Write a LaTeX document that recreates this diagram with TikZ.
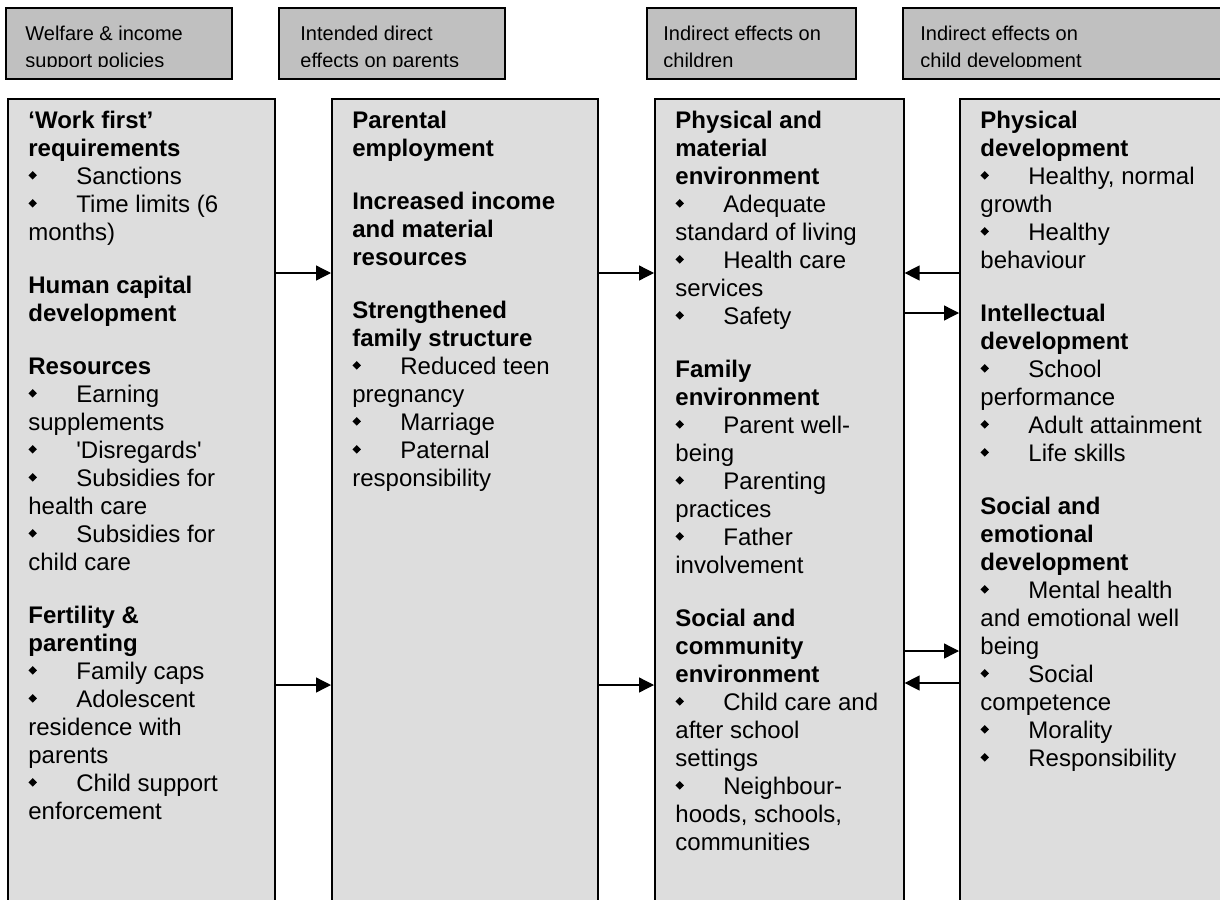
\documentclass[tikz,border=0pt]{standalone}
\usepackage{fontspec}
\setmainfont{Liberation Sans}
\usepackage{graphicx}
\usetikzlibrary{arrows.meta}
\definecolor{hdrgray}{HTML}{C0C0C0}
\definecolor{boxgray}{HTML}{DDDDDD}
\newcommand\bul{\makebox[24pt][l]{\raisebox{2.4pt}{\rotatebox{45}{\rule{3pt}{3pt}}}}}
\newcommand\sq{\textquotesingle}
\begin{document}
\begin{tikzpicture}[x=0.5pt,y=-0.5pt,
  hdr/.style={draw=black,line width=0.8pt,fill=hdrgray,anchor=north west,inner sep=0pt,minimum height=35.5pt},
  mainbox/.style={draw=black,line width=0.8pt,fill=boxgray,anchor=north west,inner sep=0pt,minimum height=406pt},
  hdrtext/.style={anchor=north west,inner sep=0pt,align=left,font=\fontsize{10}{13.5}\selectfont},
  bodytext/.style={anchor=north west,inner sep=0pt,align=left,font=\fontsize{12}{14}\selectfont},
  arr/.style={-{Triangle[length=7.5pt,width=7.5pt]},line width=0.65pt}]
\clip (0,0) rectangle (1220,899);
\fill[white] (0,0) rectangle (1220,899);
% headers
\node[hdr,minimum width=113pt] (h1) at (5,7) {};
\node[hdr,minimum width=113pt] (h2) at (278,7) {};
\node[hdr,minimum width=104.5pt] (h3) at (646,7) {};
\node[hdr,minimum width=165pt] (h4) at (902,7) {};
\begin{scope}
\clip (0,7) rectangle (1220,67);
\node[hdrtext] (ht1) at (25,22) {\rule{0pt}{9pt}Welfare \& income\\support policies};
\node[hdrtext] (ht2) at (300,22) {\rule{0pt}{9pt}Intended direct\\effects on parents};
\node[hdrtext] (ht3) at (663,22) {\rule{0pt}{9pt}Indirect effects on\\children};
\node[hdrtext] (ht4) at (920,22) {\rule{0pt}{9pt}Indirect effects on\\child development};
\end{scope}
% main boxes
\node[mainbox,minimum width=133.5pt] (b1) at (7,98) {};
\node[mainbox,minimum width=133pt] (b2) at (331,98) {};
\node[mainbox,minimum width=124.5pt] (b3) at (654,98) {};
\node[mainbox,minimum width=135pt] (b4) at (959,98) {};
% texts
\node[bodytext] (t1) at (28,106) {\rule{0pt}{11pt}\textbf{‘Work first’}\\
\textbf{requirements}\\
\bul Sanctions\\
\bul Time limits (6\\
months)\\[12.5pt]
\textbf{Human capital}\\
\textbf{development}\\[12.5pt]
\textbf{Resources}\\
\bul Earning\\
supplements\\
\bul \sq Disregards\sq\\
\bul Subsidies for\\
health care\\
\bul Subsidies for\\
child care\\[12.5pt]
\textbf{Fertility \&}\\
\textbf{parenting}\\
\bul Family caps\\
\bul Adolescent\\
residence with\\
parents\\
\bul Child support\\
enforcement};
\node[bodytext] (t2) at (352,106) {\rule{0pt}{11pt}\textbf{Parental}\\
\textbf{employment}\\[12.5pt]
\textbf{Increased income}\\
\textbf{and material}\\
\textbf{resources}\\[12.5pt]
\textbf{Strengthened}\\
\textbf{family structure}\\
\bul Reduced teen\\
pregnancy\\
\bul Marriage\\
\bul Paternal\\
responsibility};
\node[bodytext] (t3) at (675,106) {\rule{0pt}{11pt}\textbf{Physical and}\\
\textbf{material}\\
\textbf{environment}\\
\bul Adequate\\
standard of living\\
\bul Health care\\
services\\
\bul Safety\\[12.5pt]
\textbf{Family}\\
\textbf{environment}\\
\bul Parent well-\\
being\\
\bul Parenting\\
practices\\
\bul Father\\
involvement\\[12.5pt]
\textbf{Social and}\\
\textbf{community}\\
\textbf{environment}\\
\bul Child care and\\
after school\\
settings\\
\bul Neighbour-\\
hoods, schools,\\
communities};
\node[bodytext] (t4) at (980,106) {\rule{0pt}{11pt}\textbf{Physical}\\
\textbf{development}\\
\bul Healthy, normal\\
growth\\
\bul Healthy\\
behaviour\\[12.5pt]
\textbf{Intellectual}\\
\textbf{development}\\
\bul School\\
performance\\
\bul Adult attainment\\
\bul Life skills\\[12.5pt]
\textbf{Social and}\\
\textbf{emotional}\\
\textbf{development}\\
\bul Mental health\\
and emotional well\\
being\\
\bul Social\\
competence\\
\bul Morality\\
\bul Responsibility};
% connectors
\draw[arr] (b1.east |- 0,273) -- (b2.west |- 0,273);
\draw[arr] (b1.east |- 0,685) -- (b2.west |- 0,685);
\draw[arr] (b2.east |- 0,273) -- (b3.west |- 0,273);
\draw[arr] (b2.east |- 0,685) -- (b3.west |- 0,685);
\draw[arr] (b4.west |- 0,273) -- (b3.east |- 0,273);
\draw[arr] (b3.east |- 0,313) -- (b4.west |- 0,313);
\draw[arr] (b3.east |- 0,651) -- (b4.west |- 0,651);
\draw[arr] (b4.west |- 0,683) -- (b3.east |- 0,683);
\end{tikzpicture}
\end{document}
